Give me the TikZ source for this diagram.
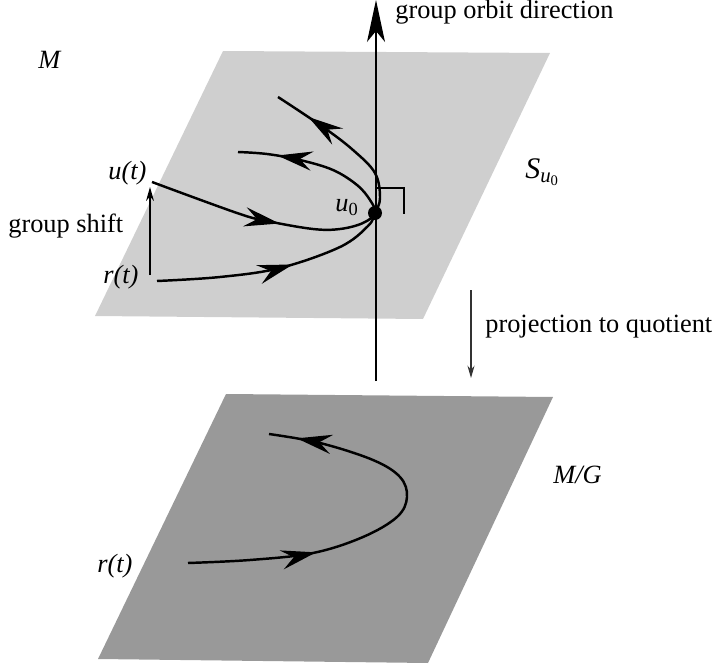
\documentclass[tikz,border=0pt]{standalone}
\usepackage{fontspec}
\setmainfont{Liberation Serif}
\usetikzlibrary{arrows.meta,decorations.markings}

\tikzset{
    bigtip/.tip={Stealth[length=20pt,width=11pt,inset=7pt]},
    twoarrows/.style 2 args={
        postaction={decorate},
        decoration={markings,
            mark=at position #1 with {\arrow{bigtip}},
            mark=at position #2 with {\arrow{bigtip}}}
    }
}

\begin{document}
\begin{tikzpicture}[
    x=0.02cm, y=-0.02cm,
    upper/.style={fill=black!19},
    lower/.style={fill=black!40},
    thinline/.style={line width=0.7pt},
    flow/.style={line width=1.4pt},
    lbl/.style={font=\fontsize{15}{18}\selectfont, inner sep=0pt, anchor=base west}
]
\useasboundingbox (0,0) rectangle (718,666);

% ---- Planes ----
\fill[upper] (223,51) -- (550,53) -- (423,319) -- (95,316) -- cycle;
\fill[lower] (226,394) -- (553,397) -- (428,663) -- (98,659) -- cycle;

% ---- Orbit axis ----
\coordinate (axisbot) at (376,381);
\coordinate (axistop) at (376,0);
\draw[thinline, -{Stealth[length=0.84cm,width=0.36cm,inset=0.22cm]}] (axisbot) -- (axistop);

% right angle mark
\coordinate (ra1) at (377,188);
\coordinate (ra2) at (404,188);
\coordinate (ra3) at (404,214);
\draw[thinline] (ra1) -- (ra2) -- (ra3);

% ---- Curves in the slice ----
\coordinate (u0) at (375,213);
\coordinate (rstart) at (157,281);
\coordinate (ustart) at (152,182);
\coordinate (rend) at (278,97);
\coordinate (uend) at (238,152);

% r(t) through u0
\draw[flow, twoarrows={0.34}{0.91}] plot[smooth, tension=0.6] coordinates
    {(rstart) (220,277) (280,268) (340,247) (368,226) (u0) (380,198)
     (375,173) (353,150) (323,127) (rend)};

% u(t) through u0
\draw[flow, twoarrows={0.34}{0.9}] plot[smooth, tension=0.6] coordinates
    {(ustart) (237,213) (267,221) (313,229) (340,229) (363,223) (u0)
     (370,200) (357,185) (333,170) (300,160) (267,154) (uend)};

\fill (u0) circle (7);

% group shift
\coordinate (shiftbot) at (150,275);
\coordinate (shifttop) at (150,187);
\draw[thinline, -{Stealth[length=8pt,width=4.5pt]}] (shiftbot) -- (shifttop);

% ---- Curve in the quotient ----
\coordinate (qstart) at (188,563);
\coordinate (qend) at (269,434);
\draw[flow, twoarrows={0.32}{0.93}] plot[smooth, tension=0.6] coordinates
    {(qstart) (250,560) (313,553) (363,537) (397,517) (407,497)
     (400,477) (373,460) (320,443) (qend)};

% projection
\coordinate (projtop) at (471,290);
\coordinate (projbot) at (471,378);
\draw[thinline, black!80, -{Stealth[length=7pt,width=4pt]}] (projtop) -- (projbot);

% ---- Labels ----
\node[lbl] (mlab) at (38,69) {\textit{M}};
\node[lbl] (orbitlab) at (395,18) {group orbit direction};
\node[lbl] (ulab) at (108,179) {\textit{u(t)}};
\node[lbl] (shiftlab) at (8,232) {group shift};
\node[lbl] (rlab) at (103,283) {\textit{r(t)}};
\node[lbl] (u0lab) at (335,212) {\textit{u}\textsubscript{0}};
\node[lbl, font=\fontsize{17}{20}\selectfont] (slab) at (525,178)
    {\textit{S}\textsubscript{\textit{u}\textsubscript{0}}};
\node[lbl] (projlab) at (485,332) {projection to quotient};
\node[lbl] (mglab) at (553,483) {\textit{M/G}};
\node[lbl] (rqlab) at (97,572) {\textit{r(t)}};

\end{tikzpicture}
\end{document}
